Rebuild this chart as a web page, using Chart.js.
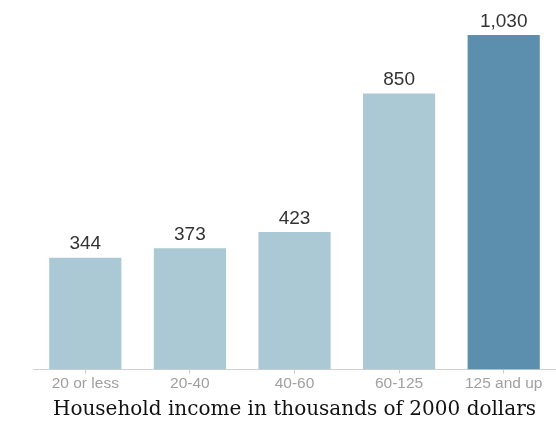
<!DOCTYPE html>
<html>
<head>
<meta charset="utf-8">
<script src="https://cdn.jsdelivr.net/npm/chart.js@4"></script>
<style>
  html, body { margin: 0; padding: 0; background: #fff; }
  #wrap { width: 556px; height: 428px; }
  canvas { display: block; }
</style>
</head>
<body>
<div id="wrap"><canvas id="myChart" width="556" height="428"></canvas></div>
<script>
const categories = ['20 or less', '20-40', '40-60', '60-125', '125 and up'];
const values = [344, 373, 423, 850, 1030];
const barColors = ['#abc8d5', '#abc8d5', '#abc8d5', '#abc8d5', '#5b8fad'];

// value labels above each bar
const valueLabels = {
  id: 'valueLabels',
  afterDatasetsDraw(chart) {
    const ctx = chart.ctx;
    const meta = chart.getDatasetMeta(0);
    ctx.save();
    ctx.font = '19px "Liberation Sans", Arial, sans-serif';
    ctx.fillStyle = '#333';
    ctx.textAlign = 'center';
    ctx.textBaseline = 'bottom';
    meta.data.forEach((bar, i) => {
      ctx.fillText(values[i].toLocaleString('en-US'), bar.x, bar.y - 4);
    });
    ctx.restore();
  }
};

const ctx = document.getElementById('myChart').getContext('2d');
const myChart = new Chart(ctx, {
  type: 'bar',
  data: {
    labels: categories,
    datasets: [{
      data: values,
      backgroundColor: barColors,
      borderWidth: 0,
      categoryPercentage: 1,
      barPercentage: 0.69
    }]
  },
  options: {
    responsive: false,
    animation: false,
    layout: {
      padding: { left: 33, right: -2, top: 35, bottom: 6 }
    },
    scales: {
      x: {
        border: { color: '#d0d0d0', width: 1 },
        grid: {
          display: true,
          offset: false,
          drawOnChartArea: false,
          tickLength: 4,
          color: '#c8c8c8'
        },
        ticks: {
          color: '#a0a0a0',
          padding: 1,
          font: { family: '"Liberation Sans", Arial, sans-serif', size: 15.5 }
        },
        title: {
          display: true,
          text: 'Household income in thousands of 2000 dollars',
          color: '#111',
          padding: { top: 4, bottom: 0 },
          font: { family: '"DejaVu Serif", Georgia, serif', size: 20 }
        }
      },
      y: {
        display: false,
        min: 0,
        max: 1030
      }
    },
    plugins: {
      legend: { display: false },
      tooltip: { enabled: false }
    }
  },
  plugins: [valueLabels]
});
</script>
</body>
</html>
